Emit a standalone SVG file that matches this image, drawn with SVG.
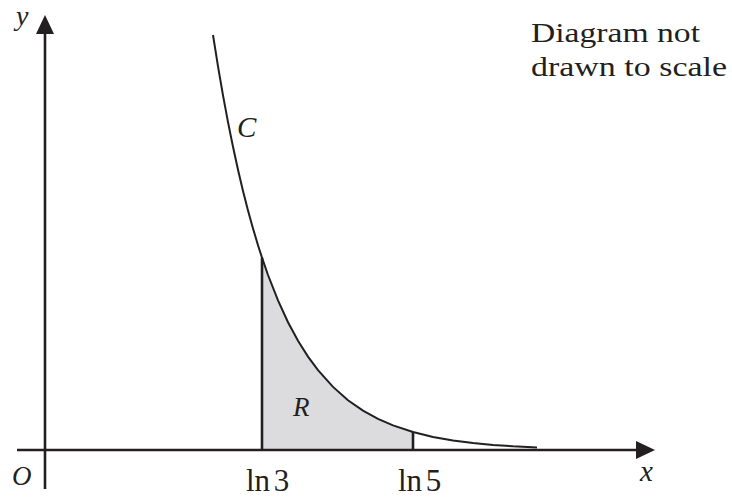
<svg xmlns="http://www.w3.org/2000/svg" width="732" height="497" viewBox="0 0 732 497">
<style>
.ln{stroke:#231f20;fill:none;stroke-linecap:butt}
.ax{stroke-width:2.6}
.cv{stroke-width:2}
.t{font-family:"Liberation Serif","Times New Roman",serif;fill:#231f20}
.it{font-style:italic}
.ah{fill:#231f20}
.lb{word-spacing:-4px}
</style>
<rect width="732" height="497" fill="#ffffff"/>
<g id="region">
<polygon fill="#dcdcde" points="262,450 262,257.7 268,275 278,300.4 288,322.2 298,340.7 308,356.6 318,370.2 333,386.9 348,400.2 363,410.6 378,418.9 393,425.4 413,432 413,450"/>
</g>
<g id="axes">
<line class="ln ax" x1="45" y1="30" x2="45" y2="489"/>
<polygon class="ah" points="45,15 36,34 54,34"/>
<line class="ln ax" x1="17" y1="450" x2="640" y2="450"/>
<polygon class="ah" points="655,450 636,441 636,459"/>
</g>
<g id="curve">
<polyline class="ln cv" points="213,35 218,66.3 223,95.3 228,122.1 233,146.8 238,169.7 243,190.9 248,210.4 253,228.5 258,245.2 262,257.7 268,275 278,300.4 288,322.2 298,340.7 308,356.6 318,370.2 333,386.9 348,400.2 363,410.6 378,418.9 393,425.4 413,432 433,436.9 453,440.4 473,443 493,444.9 513,446.3 537,447.4"/>
</g>
<g id="bounds">
<line class="ln ax" x1="262" y1="257.7" x2="262" y2="450"/>
<line class="ln ax" x1="413" y1="432" x2="413" y2="450"/>
</g>
<g id="labels">
<text class="t it" x="16" y="25" font-size="28">y</text>
<text class="t it" x="640" y="481" font-size="29">x</text>
<text class="t it" x="12" y="485" font-size="27">O</text>
<text class="t it" x="237" y="137" font-size="29">C</text>
<text class="t it" x="293" y="416" font-size="27">R</text>
<text class="t lb" x="246" y="491" font-size="31">ln 3</text>
<text class="t lb" x="398" y="491" font-size="31">ln 5</text>
<text class="t" x="531" y="42" font-size="28" textLength="169" lengthAdjust="spacingAndGlyphs">Diagram not</text>
<text class="t" x="531" y="76" font-size="28" textLength="196" lengthAdjust="spacingAndGlyphs">drawn to scale</text>
</g>
</svg>
